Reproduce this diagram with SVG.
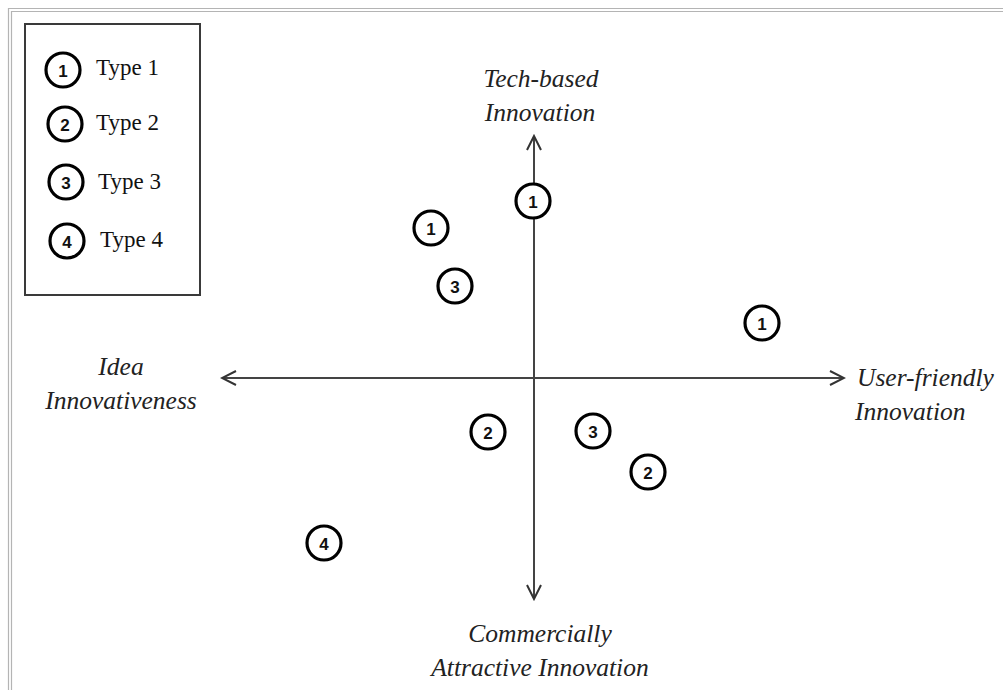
<svg xmlns="http://www.w3.org/2000/svg" width="1003" height="690" viewBox="0 0 1003 690">
<defs>
<style>
.frame{fill:none;stroke:#b4b4b4;stroke-width:1.2}
.legendbox{fill:#fff;stroke:#3a3a3a;stroke-width:2}
.mark{fill:#fff;stroke:#000;stroke-width:3.2}
.num{font-family:"Liberation Sans",Arial,sans-serif;font-weight:bold;font-size:17px;fill:#111;text-anchor:middle}
.leg{font-family:"Liberation Serif","Times New Roman",serif;font-size:23px;fill:#111}
.axlab{font-family:"Liberation Serif","Times New Roman",serif;font-style:italic;font-size:25.5px;fill:#222}
.axis{stroke:#444;stroke-width:2;fill:none}
</style>
<marker id="arr" viewBox="0 0 20 20" refX="18" refY="10" markerWidth="20" markerHeight="20" markerUnits="userSpaceOnUse" orient="auto">
<path d="M4,3 L18,10 L4,17" fill="none" stroke="#333" stroke-width="2"/>
</marker>
</defs>
<rect width="1003" height="690" fill="#fff"/>
<g id="frame">
<path class="frame" d="M8.5,700 V8.5 H1010"/>
<path class="frame" d="M11.5,700 V11.5 H1010" stroke="#c8c8c8"/>
</g>
<g id="legend">
<rect class="legendbox" x="25" y="24" width="175" height="271"/>
<g id="leg1"><circle class="mark" cx="63" cy="70" r="17"/><text class="num" x="63" y="77">1</text><text class="leg" x="96" y="75">Type 1</text></g>
<g id="leg2"><circle class="mark" cx="65" cy="124" r="17"/><text class="num" x="65" y="131">2</text><text class="leg" x="96" y="130">Type 2</text></g>
<g id="leg3"><circle class="mark" cx="66" cy="182" r="17"/><text class="num" x="66" y="189">3</text><text class="leg" x="98" y="189">Type 3</text></g>
<g id="leg4"><circle class="mark" cx="67" cy="241" r="17"/><text class="num" x="67" y="248">4</text><text class="leg" x="100" y="247">Type 4</text></g>
</g>
<g id="connectors">
<line class="axis" x1="534" y1="378" x2="534" y2="136" marker-end="url(#arr)"/>
<line class="axis" x1="534" y1="378" x2="534" y2="599" marker-end="url(#arr)"/>
<line class="axis" x1="534" y1="378" x2="222" y2="378" marker-end="url(#arr)"/>
<line class="axis" x1="534" y1="378" x2="844" y2="378" marker-end="url(#arr)"/>
</g>
<g id="label-top"><text class="axlab" x="541" y="87" text-anchor="middle">Tech-based</text><text class="axlab" x="540" y="121" text-anchor="middle">Innovation</text></g>
<g id="label-left"><text class="axlab" x="121" y="375" text-anchor="middle">Idea</text><text class="axlab" x="121" y="409" text-anchor="middle">Innovativeness</text></g>
<g id="label-right"><text class="axlab" x="857" y="386">User-friendly</text><text class="axlab" x="855" y="420">Innovation</text></g>
<g id="label-bottom"><text class="axlab" x="540" y="642" text-anchor="middle">Commercially</text><text class="axlab" x="540" y="676" text-anchor="middle">Attractive Innovation</text></g>
<g id="p1a"><circle class="mark" cx="533" cy="201" r="17"/><text class="num" x="533" y="208">1</text></g>
<g id="p1b"><circle class="mark" cx="431" cy="228" r="17"/><text class="num" x="431" y="235">1</text></g>
<g id="p3a"><circle class="mark" cx="455" cy="286" r="17"/><text class="num" x="455" y="293">3</text></g>
<g id="p1c"><circle class="mark" cx="762" cy="323" r="17"/><text class="num" x="762" y="330">1</text></g>
<g id="p2a"><circle class="mark" cx="488" cy="432" r="17"/><text class="num" x="488" y="439">2</text></g>
<g id="p3b"><circle class="mark" cx="593" cy="431" r="17"/><text class="num" x="593" y="438">3</text></g>
<g id="p2b"><circle class="mark" cx="648" cy="472" r="17"/><text class="num" x="648" y="479">2</text></g>
<g id="p4"><circle class="mark" cx="324" cy="543" r="17"/><text class="num" x="324" y="550">4</text></g>
</svg>
